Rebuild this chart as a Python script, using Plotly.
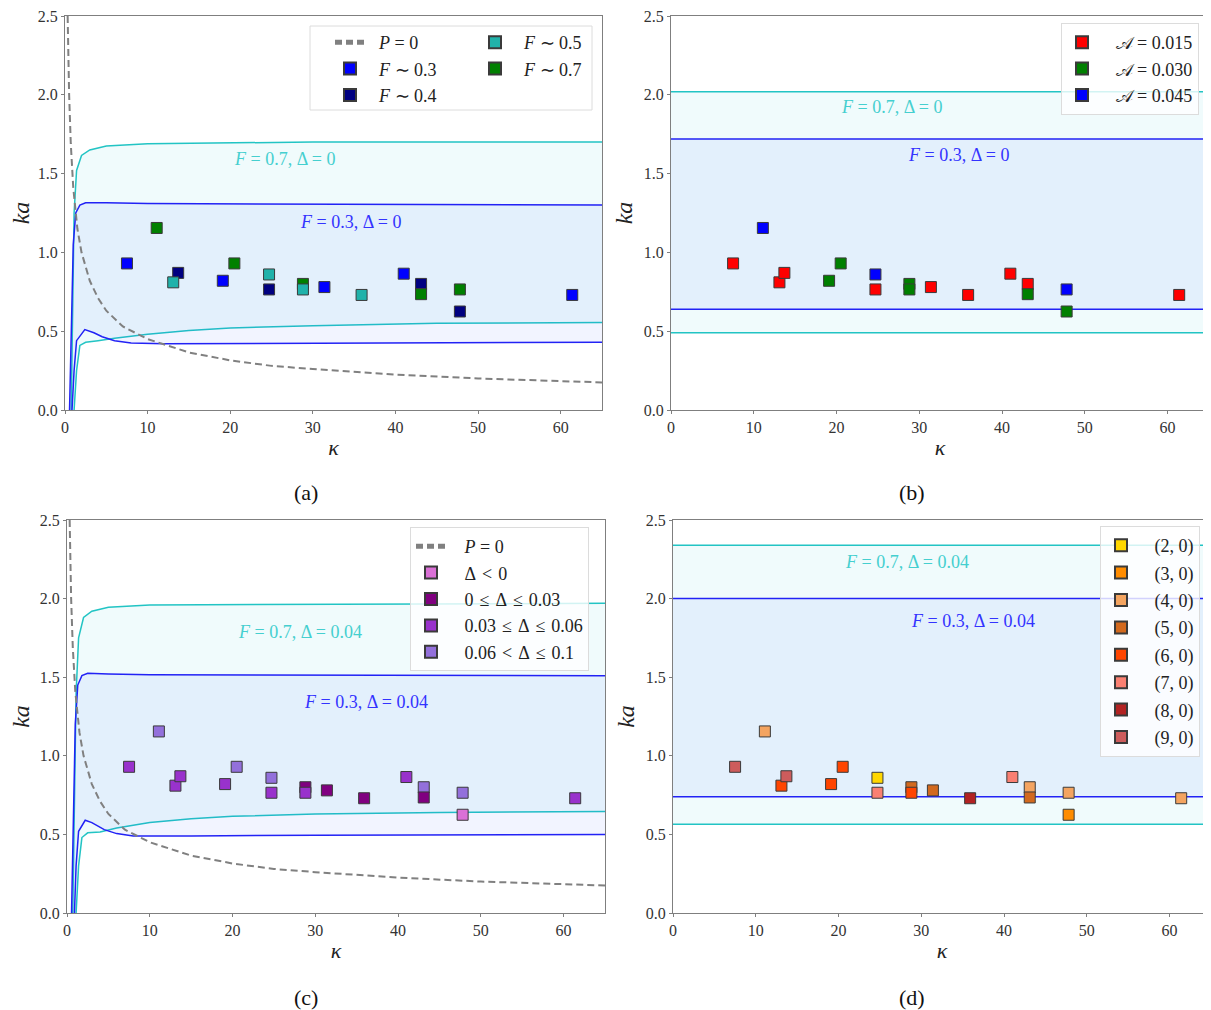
import plotly.graph_objects as go

W, H = 1211, 1010
OFF = 8  # page body margin of the rendered html

# ---------------- data ----------------
kappa = [7.5, 11.1, 13.1, 13.7, 19.1, 20.5, 24.7, 24.7, 28.8, 28.8,
         31.4, 35.9, 41.0, 43.1, 43.1, 47.8, 47.8, 61.4]
ka = [0.93, 1.155, 0.81, 0.87, 0.82, 0.93, 0.86, 0.765, 0.80, 0.765,
      0.78, 0.73, 0.865, 0.80, 0.735, 0.765, 0.625, 0.73]

group_F = ["0.3", "0.7", "0.5", "0.4", "0.3", "0.7", "0.5", "0.4", "0.7", "0.5",
           "0.3", "0.5", "0.3", "0.4", "0.7", "0.7", "0.4", "0.3"]
group_A = ["0.015", "0.045", "0.015", "0.015", "0.030", "0.030", "0.045", "0.015", "0.030", "0.030",
           "0.015", "0.015", "0.015", "0.015", "0.030", "0.045", "0.030", "0.015"]
group_D = ["b", "c", "b", "b", "b", "c", "c", "b", "a", "b",
           "a", "a", "b", "c", "a", "c", "neg", "b"]
group_mode = [9, 4, 6, 9, 6, 6, 2, 7, 5, 6, 5, 8, 7, 4, 5, 4, 3, 4]

# P = 0 curve (dashed)
p0_k = [0.32, 0.4, 0.5, 0.7, 1.0, 1.5, 2.0, 3.0, 4.0, 5.0, 7.0, 10.0, 15.0, 20.0, 25.0, 30.0, 40.0, 50.0, 65.0]
p0_v = [2.5, 2.24, 2.0, 1.69, 1.41, 1.15, 1.0, 0.82, 0.71, 0.63, 0.53, 0.45, 0.365, 0.315, 0.28, 0.26, 0.225, 0.2, 0.175]

# panel (a) band curves
a_cyan_up_k = [0.75, 0.9, 1.1, 1.4, 2.0, 3.0, 5.0, 10.0, 30.0, 65.0]
a_cyan_up_v = [0.0, 0.7, 1.25, 1.52, 1.615, 1.65, 1.675, 1.69, 1.70, 1.70]
a_cyan_lo_k = [1.1, 1.4, 1.8, 2.5, 4.0, 6.0, 10.0, 15.0, 20.0, 30.0, 45.0, 65.0]
a_cyan_lo_v = [0.0, 0.25, 0.41, 0.43, 0.44, 0.455, 0.48, 0.505, 0.52, 0.535, 0.55, 0.555]
a_blue_up_k = [0.55, 0.8, 1.0, 1.3, 1.8, 2.5, 5.0, 10.0, 65.0]
a_blue_up_v = [0.0, 0.7, 1.05, 1.25, 1.30, 1.315, 1.315, 1.31, 1.30]
a_blue_lo_k = [0.85, 1.1, 1.4, 2.4, 3.5, 4.5, 6.0, 8.0, 12.0, 30.0, 65.0]
a_blue_lo_v = [0.0, 0.25, 0.44, 0.51, 0.49, 0.465, 0.44, 0.425, 0.42, 0.425, 0.43]

# panel (c) band curves
c_cyan_up_k = [0.7, 0.9, 1.1, 1.4, 2.0, 3.0, 5.0, 10.0, 30.0, 65.0]
c_cyan_up_v = [0.0, 0.8, 1.4, 1.75, 1.88, 1.92, 1.945, 1.96, 1.965, 1.97]
c_cyan_lo_k = [1.1, 1.4, 1.8, 2.5, 4.0, 6.0, 10.0, 15.0, 20.0, 30.0, 45.0, 65.0]
c_cyan_lo_v = [0.0, 0.3, 0.48, 0.51, 0.515, 0.54, 0.575, 0.6, 0.615, 0.63, 0.64, 0.645]
c_blue_up_k = [0.55, 0.8, 1.0, 1.3, 1.8, 2.5, 5.0, 10.0, 65.0]
c_blue_up_v = [0.0, 0.7, 1.2, 1.45, 1.51, 1.525, 1.52, 1.515, 1.51]
c_blue_lo_k = [0.9, 1.1, 1.4, 2.2, 3.0, 4.5, 6.0, 8.0, 15.0, 30.0, 65.0]
c_blue_lo_v = [0.0, 0.3, 0.52, 0.59, 0.575, 0.53, 0.505, 0.49, 0.49, 0.495, 0.50]

# panels (b), (d) constant bands: [upper, lower]
b_cyan = [2.02, 0.49]
b_blue = [1.72, 0.64]
d_cyan = [2.34, 0.565]
d_blue = [2.00, 0.74]
k_span = [0, 65]

x_ticks = [0, 10, 20, 30, 40, 50, 60]
y_ticks = [0.0, 0.5, 1.0, 1.5, 2.0, 2.5]
y_ticklabels = ["0.0", "0.5", "1.0", "1.5", "2.0", "2.5"]

# ---------------- styles ----------------
SERIF = "Liberation Serif"
CYAN_LINE = "#22c4c4"
BLUE_LINE = "#2222f5"
CYAN_FILL = "rgba(0,190,200,0.06)"
BLUE_FILL = "rgba(30,60,255,0.06)"
CYAN_TEXT = "#45cfcf"
BLUE_TEXT = "#3333ff"
EDGE = "#3a3a3a"
MSIZE = 11
LEG_FONT = 18
NB = "\u00a0"
S = "\u2004"  # slightly wider space around relations

F_colors = {"0.3": "#0000ff", "0.4": "#000080", "0.5": "#20b2aa", "0.7": "#008000"}
A_colors = {"0.015": "#ff0000", "0.030": "#008000", "0.045": "#0000ff"}
D_colors = {"neg": "#da70d6", "a": "#800080", "b": "#9932cc", "c": "#9370db"}
D_names = {"neg": "Δ" + S + "<" + S + "0", "a": "0" + S + "≤" + S + "Δ" + S + "≤" + S + "0.03",
           "b": "0.03" + S + "≤" + S + "Δ" + S + "≤" + S + "0.06",
           "c": "0.06" + S + "<" + S + "Δ" + S + "≤" + S + "0.1"}
M_colors = {2: "#ffd700", 3: "#ff8c00", 4: "#f4a460", 5: "#d2691e",
            6: "#ff4500", 7: "#fa8072", 8: "#b22222", 9: "#cd5c5c"}


def px_x(p):
    return (p - OFF) / W


def px_y(p):
    return 1 - (p - OFF) / H


fig = go.Figure()

axes = {
    "a": ("x", "y"),
    "b": ("x2", "y2"),
    "c": ("x3", "y3"),
    "d": ("x4", "y4"),
}


def add_line(panel, xs, ys, color, fill=None, fillcolor=None, dash=None, width=1.5,
             name=None, legend=None, showlegend=False, rank=None):
    xa, ya = axes[panel]
    kw = {}
    if fill:
        kw["fill"] = fill
        kw["fillcolor"] = fillcolor
    if showlegend:
        kw["legendgroup"] = "g_" + panel + "_" + str(name)
    fig.add_trace(go.Scatter(
        x=xs, y=ys, mode="lines", xaxis=xa, yaxis=ya,
        line=dict(color=color, width=width, dash=dash),
        name=name, showlegend=showlegend, hoverinfo="skip",
        legend=legend, legendrank=rank if rank else 1000, **kw))


def add_points(panel, groups, key, color, name, legend, rank, pad=2):
    xa, ya = axes[panel]
    xs = [k for k, g in zip(kappa, groups) if g == key]
    ys = [v for v, g in zip(ka, groups) if g == key]
    fig.add_trace(go.Scatter(
        x=xs, y=ys, mode="markers", xaxis=xa, yaxis=ya,
        marker=dict(symbol="square", size=MSIZE, color=color,
                    line=dict(color=EDGE, width=1)),
        name=NB * pad + name, legend=legend, legendrank=rank,
        legendgroup="g_" + panel + "_" + name, showlegend=True))


def add_band_curves(panel, cu_k, cu_v, cl_k, cl_v, bu_k, bu_v, bl_k, bl_v):
    add_line(panel, cu_k, cu_v, CYAN_LINE)
    add_line(panel, cl_k, cl_v, CYAN_LINE, fill="tonexty", fillcolor=CYAN_FILL)
    add_line(panel, bu_k, bu_v, BLUE_LINE)
    add_line(panel, bl_k, bl_v, BLUE_LINE, fill="tonexty", fillcolor=BLUE_FILL)


def add_band_flat(panel, cyan, blue):
    add_line(panel, k_span, [cyan[0]] * 2, CYAN_LINE)
    add_line(panel, k_span, [cyan[1]] * 2, CYAN_LINE, fill="tonexty", fillcolor=CYAN_FILL)
    add_line(panel, k_span, [blue[0]] * 2, BLUE_LINE)
    add_line(panel, k_span, [blue[1]] * 2, BLUE_LINE, fill="tonexty", fillcolor=BLUE_FILL)


DASH = "7px,4px"

# ---- panel (a)
add_band_curves("a", a_cyan_up_k, a_cyan_up_v, a_cyan_lo_k, a_cyan_lo_v,
                a_blue_up_k, a_blue_up_v, a_blue_lo_k, a_blue_lo_v)
add_line("a", p0_k, p0_v, "#808080", dash=DASH, width=2,
         name=NB * 2 + "<i>P</i> = 0", legend="legend", showlegend=True, rank=1)
for key, leg, rank in [("0.3", "legend", 2), ("0.4", "legend", 3),
                       ("0.7", "legend2", 2), ("0.5", "legend2", 1)]:
    add_points("a", group_F, key, F_colors[key], "<i>F</i> ∼ " + key, leg, rank)

# ---- panel (b)
add_band_flat("b", b_cyan, b_blue)
for i, key in enumerate(["0.015", "0.030", "0.045"]):
    add_points("b", group_A, key, A_colors[key], "𝒜 = " + key, "legend3", i + 1, pad=3)

# ---- panel (c)
add_band_curves("c", c_cyan_up_k, c_cyan_up_v, c_cyan_lo_k, c_cyan_lo_v,
                c_blue_up_k, c_blue_up_v, c_blue_lo_k, c_blue_lo_v)
add_line("c", p0_k, p0_v, "#808080", dash=DASH, width=2,
         name=NB * 3 + "<i>P</i> = 0", legend="legend4", showlegend=True, rank=1)
d_order = {"neg": 2, "a": 3, "b": 4, "c": 5}
for key in ["c", "a", "b", "neg"]:
    add_points("c", group_D, key, D_colors[key], D_names[key], "legend4", d_order[key], pad=3)

# ---- panel (d)
add_band_flat("d", d_cyan, d_blue)
for key in [4, 5, 6, 2, 3, 7, 8, 9]:
    add_points("d", group_mode, key, M_colors[key], "(%d, 0)" % key, "legend5", key, pad=3)

# ---------------- axes ----------------
dom_x = {"a": (65, 602), "b": (671, 1209), "c": (67, 605), "d": (673, 1211)}
dom_y = {"a": (16, 410), "b": (16, 410), "c": (520, 913), "d": (520, 913)}

axis_common = dict(showgrid=False, zeroline=False, showline=True, mirror=True,
                   linecolor="#7f7f7f", linewidth=1.3, ticks="outside", ticklen=3,
                   tickcolor="#7f7f7f", automargin=False, ticklabeloverflow="allow",
                   tickfont=dict(family=SERIF, size=16, color="#333333"))

layout = {}
for i, p in enumerate(["a", "b", "c", "d"]):
    sfx = "" if i == 0 else str(i + 1)
    x0, x1 = dom_x[p]
    y0, y1 = dom_y[p]
    layout["xaxis" + sfx] = dict(
        domain=[px_x(x0), min(px_x(x1), 1.0)], range=[0, 65], anchor="y" + sfx,
        tickvals=x_ticks,
        title=dict(text="<i>κ</i>", font=dict(family=SERIF, size=22, color="#222"), standoff=4),
        **axis_common)
    layout["yaxis" + sfx] = dict(
        domain=[px_y(y1), px_y(y0)], range=[0, 2.5], anchor="x" + sfx,
        tickvals=y_ticks, ticktext=y_ticklabels,
        title=dict(text="<i>ka</i>", font=dict(family=SERIF, size=24, color="#222"), standoff=4),
        **axis_common)

legend_common = dict(font=dict(family=SERIF, size=LEG_FONT, color="#222"),
                     xanchor="left", yanchor="top", traceorder="grouped",
                     itemsizing="constant")
layout["legend"] = dict(x=px_x(330), y=px_y(24), bgcolor="rgba(0,0,0,0)", borderwidth=0,
                        tracegroupgap=0, **legend_common)
layout["legend2"] = dict(x=px_x(475), y=px_y(24), bgcolor="rgba(0,0,0,0)", borderwidth=0,
                         tracegroupgap=0, **legend_common)
boxed = dict(bgcolor="rgba(255,255,255,0.8)", bordercolor="#dcdcdc", borderwidth=1)
layout["legend3"] = dict(x=px_x(1061), y=px_y(23), tracegroupgap=0, **boxed, **legend_common)
layout["legend4"] = dict(x=px_x(410), y=px_y(527), tracegroupgap=0, **boxed, **legend_common)
layout["legend5"] = dict(x=px_x(1100), y=px_y(526), tracegroupgap=1, **boxed, **legend_common)

fig.update_layout(
    width=W, height=H, margin=dict(l=0, r=0, t=0, b=0, autoexpand=False),
    paper_bgcolor="white", plot_bgcolor="white",
    font=dict(family=SERIF, size=15, color="#222"),
    shapes=[dict(type="rect", xref="paper", yref="paper",
                 x0=px_x(310), x1=px_x(592), y0=px_y(110), y1=px_y(26),
                 fillcolor="rgba(255,255,255,0.8)", line=dict(color="#dcdcdc", width=1),
                 layer="above")],
    **layout)

# band labels
ann = [
    ("x", "y", 26.6, 1.59, "<i>F</i> = 0.7, Δ = 0", CYAN_TEXT),
    ("x", "y", 34.6, 1.19, "<i>F</i> = 0.3, Δ = 0", BLUE_TEXT),
    ("x2", "y2", 26.6, 1.92, "<i>F</i> = 0.7, Δ = 0", CYAN_TEXT),
    ("x2", "y2", 34.7, 1.62, "<i>F</i> = 0.3, Δ = 0", BLUE_TEXT),
    ("x3", "y3", 28.1, 1.79, "<i>F</i> = 0.7, Δ = 0.04", CYAN_TEXT),
    ("x3", "y3", 36.1, 1.34, "<i>F</i> = 0.3, Δ = 0.04", BLUE_TEXT),
    ("x4", "y4", 28.3, 2.23, "<i>F</i> = 0.7, Δ = 0.04", CYAN_TEXT),
    ("x4", "y4", 36.3, 1.86, "<i>F</i> = 0.3, Δ = 0.04", BLUE_TEXT),
]
for xr, yr, xv, yv, txt, col in ann:
    fig.add_annotation(x=xv, y=yv, xref=xr, yref=yr, text=txt, showarrow=False,
                       xanchor="center", yanchor="middle",
                       font=dict(family=SERIF, size=18, color=col))

for lab, xp, yp in [("(a)", 306, 492), ("(b)", 912, 492), ("(c)", 306, 997), ("(d)", 912, 997)]:
    fig.add_annotation(x=px_x(xp), y=px_y(yp), xref="paper", yref="paper", text=lab,
                       showarrow=False, xanchor="center", yanchor="middle",
                       font=dict(family=SERIF, size=22, color="#111"))

fig.write_html("out.html")
